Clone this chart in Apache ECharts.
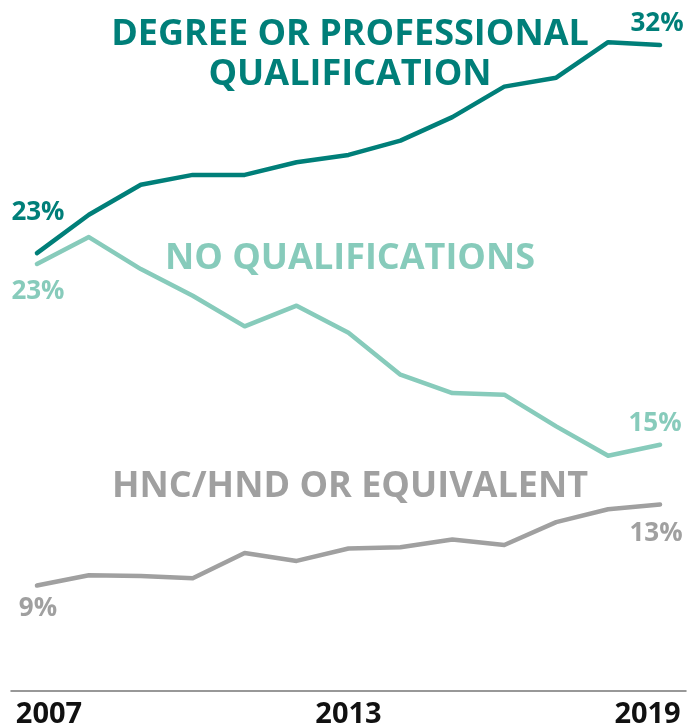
<!DOCTYPE html>
<html>
<head>
    <meta charset="utf-8">
    <title>Qualifications</title>
    <script src="https://cdn.jsdelivr.net/npm/echarts@6/dist/echarts.min.js"></script>
    <style>
        html, body { margin: 0; padding: 0; background: #fff; }
    </style>
</head>
<body>
    <div id="box" style="width: 689px;height: 724px;"></div>
    <script>
        // data (percent of people)
        var years = ['2007', '2008', '2009', '2010', '2011', '2012', '2013', '2014', '2015', '2016', '2017', '2018', '2019'];
        var degree = [23.35, 24.98, 26.26, 26.68, 26.68, 27.22, 27.53, 28.14, 29.14, 30.44, 30.82, 32.33, 32.21];
        var noQual = [22.89, 24.03, 22.67, 21.53, 20.23, 21.11, 19.96, 18.17, 17.39, 17.32, 15.97, 14.72, 15.19];
        var hnc = [9.19, 9.63, 9.60, 9.50, 10.58, 10.24, 10.77, 10.82, 11.15, 10.92, 11.89, 12.44, 12.64];
        var shownYears = ['2007', '2013', '2019'];

        var FONT = '"Open Sans", sans-serif';
        var C_DEG = '#007f79', C_NOQ = '#87cbbb', C_HNC = '#a0a0a0';

        // label only first and last point
        function endData(values, color, firstOffset, lastOffset) {
            return values.map(function (v, i) {
                if (i !== 0 && i !== values.length - 1) return v;
                return {
                    value: v,
                    label: {
                        show: true,
                        position: 'inside',
                        offset: i === 0 ? firstOffset : lastOffset,
                        formatter: Math.round(v) + '%',
                        color: color,
                        fontFamily: FONT,
                        fontWeight: 700,
                        fontSize: 26
                    }
                };
            });
        }

        function lineSeries(name, values, color, firstOffset, lastOffset) {
            return {
                name: name,
                type: 'line',
                data: endData(values, color, firstOffset, lastOffset),
                symbol: 'circle',
                symbolSize: 0,
                showSymbol: true,
                lineStyle: { color: color, width: 4.5, cap: 'round', join: 'round' },
                itemStyle: { color: color },
                label: { show: false },
                silent: true,
                animation: false
            };
        }

        function seriesTitle(text, color, y) {
            return {
                type: 'text', x: 350, y: y,
                style: {
                    text: text, align: 'center', verticalAlign: 'top',
                    fill: color, font: '700 36px ' + FONT, lineHeight: 40
                }
            };
        }

        var myChart = echarts.init(document.getElementById('box'));
        var option = {
            animation: false,
            grid: { left: 11, right: 3, top: 3, bottom: 33, outerBoundsMode: 'none', containLabel: false },
            xAxis: {
                type: 'category',
                data: years,
                boundaryGap: true,
                axisLine: { lineStyle: { color: '#777', width: 1.5 } },
                axisTick: { show: false },
                axisLabel: {
                    interval: 0,
                    margin: 9,
                    formatter: function (val) {
                        if (shownYears.indexOf(val) < 0) return '';
                        if (val === years[0]) return '{first|' + val + '}';
                        if (val === years[years.length - 1]) return '{last|' + val + '}';
                        return '{mid|' + val + '}';
                    },
                    rich: {
                        first: { fontFamily: FONT, fontWeight: 700, fontSize: 29, color: '#111', padding: [0, 0, 0, 24] },
                        mid: { fontFamily: FONT, fontWeight: 700, fontSize: 29, color: '#111' },
                        last: { fontFamily: FONT, fontWeight: 700, fontSize: 29, color: '#111', padding: [0, 25, 0, 0] }
                    }
                }
            },
            yAxis: {
                type: 'value',
                min: 4.7,
                max: 34,
                show: false,
                splitLine: { show: false }
            },
            graphic: [
                seriesTitle('DEGREE OR PROFESSIONAL', C_DEG, 15),
                seriesTitle('QUALIFICATION', C_DEG, 55),
                seriesTitle('NO QUALIFICATIONS', C_NOQ, 239),
                seriesTitle('HNC/HND OR EQUIVALENT', C_HNC, 467)
            ],
            series: [
                lineSeries('Degree or professional qualification', degree, C_DEG, [1, -40], [-3, -21]),
                lineSeries('No qualifications', noQual, C_NOQ, [1, 28], [-5, -21]),
                lineSeries('HNC/HND or equivalent', hnc, C_HNC, [1, 23], [-4, 29])
            ]
        };
        myChart.setOption(option);
    </script>
</body>
</html>
